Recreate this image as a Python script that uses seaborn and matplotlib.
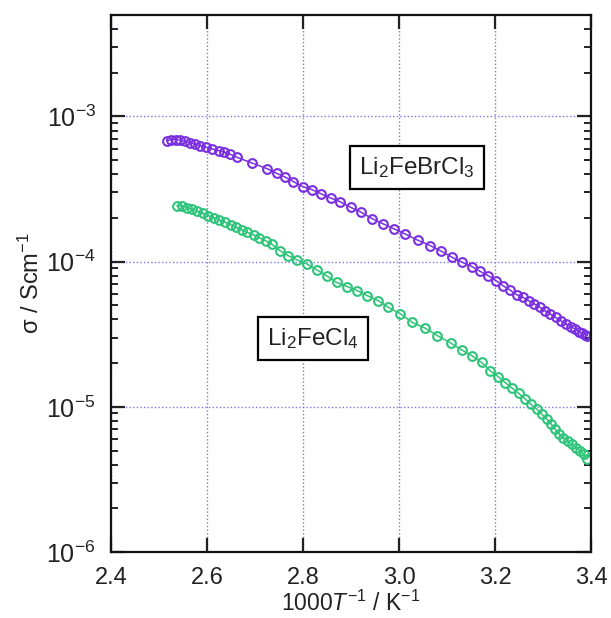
import numpy as np
import pandas as pd
import matplotlib
matplotlib.use("Agg")
import matplotlib.pyplot as plt
import matplotlib.ticker as mticker
import seaborn as sns

# Li2FeBrCl3 (purple)
x_brcl = [2.517, 2.526, 2.535, 2.544, 2.554, 2.565, 2.575, 2.585, 2.598, 2.611,
          2.624, 2.635, 2.648, 2.662, 2.693, 2.726, 2.745, 2.763, 2.780, 2.799,
          2.818, 2.838, 2.858, 2.877, 2.899, 2.921, 2.944, 2.967, 2.990, 3.013,
          3.040, 3.065, 3.088, 3.111, 3.132, 3.152, 3.169, 3.186, 3.202, 3.217,
          3.231, 3.245, 3.258, 3.270, 3.282, 3.294, 3.304, 3.315, 3.326, 3.337,
          3.348, 3.358, 3.367, 3.374, 3.381, 3.388, 3.392]
s_brcl = [6.82e-4, 6.93e-4, 6.93e-4, 6.87e-4, 6.73e-4, 6.59e-4, 6.44e-4, 6.31e-4, 6.14e-4, 5.98e-4,
          5.83e-4, 5.68e-4, 5.50e-4, 5.24e-4, 4.79e-4, 4.36e-4, 4.06e-4, 3.82e-4, 3.56e-4, 3.29e-4,
          3.14e-4, 2.93e-4, 2.74e-4, 2.59e-4, 2.37e-4, 2.19e-4, 1.98e-4, 1.82e-4, 1.68e-4, 1.55e-4,
          1.40e-4, 1.29e-4, 1.18e-4, 1.07e-4, 9.89e-5, 9.25e-5, 8.57e-5, 8.00e-5, 7.40e-5, 6.82e-5,
          6.38e-5, 5.92e-5, 5.68e-5, 5.38e-5, 5.11e-5, 4.84e-5, 4.59e-5, 4.36e-5, 4.13e-5, 3.92e-5,
          3.72e-5, 3.56e-5, 3.44e-5, 3.30e-5, 3.21e-5, 3.14e-5, 3.09e-5]

# Li2FeCl4 (green)
x_cl = [2.537, 2.547, 2.558, 2.569, 2.580, 2.591, 2.603, 2.615, 2.626, 2.638,
        2.649, 2.660, 2.672, 2.684, 2.697, 2.709, 2.723, 2.735, 2.752, 2.769,
        2.787, 2.808, 2.829, 2.849, 2.870, 2.892, 2.913, 2.934, 2.957, 2.978,
        3.002, 3.028, 3.054, 3.080, 3.108, 3.131, 3.152, 3.172, 3.190, 3.207,
        3.221, 3.235, 3.249, 3.263, 3.275, 3.287, 3.297, 3.308, 3.317, 3.325,
        3.333, 3.342, 3.351, 3.360, 3.369, 3.377, 3.385, 3.392]
s_cl = [2.43e-4, 2.41e-4, 2.36e-4, 2.29e-4, 2.22e-4, 2.15e-4, 2.07e-4, 2.00e-4, 1.93e-4, 1.87e-4,
        1.80e-4, 1.73e-4, 1.66e-4, 1.59e-4, 1.53e-4, 1.46e-4, 1.39e-4, 1.32e-4, 1.19e-4, 1.10e-4,
        1.03e-4, 9.64e-5, 8.77e-5, 8.00e-5, 7.19e-5, 6.73e-5, 6.31e-5, 5.83e-5, 5.38e-5, 4.84e-5,
        4.39e-5, 3.81e-5, 3.49e-5, 3.09e-5, 2.75e-5, 2.46e-5, 2.25e-5, 2.02e-5, 1.77e-5, 1.61e-5,
        1.47e-5, 1.35e-5, 1.24e-5, 1.13e-5, 1.04e-5, 9.64e-6, 8.91e-6, 8.22e-6, 7.60e-6, 7.02e-6,
        6.55e-6, 6.14e-6, 5.83e-6, 5.53e-6, 5.24e-6, 4.98e-6, 4.72e-6, 4.40e-6]

x_ticks = [2.4, 2.6, 2.8, 3.0, 3.2, 3.4]
y_ticks = [1e-6, 1e-5, 1e-4, 1e-3]
label_brcl = r"Li$_2$FeBrCl$_3$"
label_cl = r"Li$_2$FeCl$_4$"

sns.set_theme(style="white")
plt.rcParams["font.family"] = ["Liberation Sans", "DejaVu Sans"]
plt.rcParams["mathtext.fontset"] = "custom"
plt.rcParams["mathtext.rm"] = "Liberation Sans"
plt.rcParams["mathtext.it"] = "Liberation Sans:italic"
plt.rcParams["mathtext.bf"] = "Liberation Sans:bold"
plt.rcParams["mathtext.sf"] = "Liberation Sans"

fig = plt.figure(figsize=(6.11, 6.18), dpi=100)
ax = fig.add_axes([0.1817, 0.1068, 0.7856, 0.8689])

df1 = pd.DataFrame({"x": x_brcl, "s": s_brcl})
df2 = pd.DataFrame({"x": x_cl, "s": s_cl})
purple = "#7a2fe0"
green = "#2fc47a"
for df, c in [(df1, purple), (df2, green)]:
    sns.lineplot(data=df, x="x", y="s", ax=ax, color=c, estimator=None, sort=False,
                 marker="o", markersize=6.3, markerfacecolor="none",
                 markeredgecolor=c, markeredgewidth=1.5, linewidth=1.1)

ax.set_yscale("log")
ax.set_xlim(2.4, 3.4)
ax.set_ylim(1e-6, 5e-3)
ax.set_xticks(x_ticks)
ax.xaxis.set_major_formatter(mticker.FormatStrFormatter("%.1f"))
ax.yaxis.set_major_locator(mticker.FixedLocator(y_ticks))
ax.yaxis.set_minor_locator(mticker.LogLocator(base=10, subs=np.arange(2, 10), numticks=20))
ax.yaxis.set_minor_formatter(mticker.NullFormatter())
ax.yaxis.set_major_formatter(mticker.FuncFormatter(lambda v, p: r"$10^{%d}$" % int(round(np.log10(v)))))

ax.grid(True, which="major", color="#7878ee", linestyle=(0, (1.0, 1.6)), linewidth=1.0)
ax.tick_params(which="both", direction="in", top=True, right=True, bottom=True, left=True,
               colors="#222222")
ax.tick_params(which="major", length=10, width=1.6)
ax.tick_params(which="minor", length=5, width=1.4)
ax.tick_params(axis="x", which="major", pad=11, labelsize=17)
ax.tick_params(axis="y", which="major", pad=11, labelsize=18)
for sp in ax.spines.values():
    sp.set_linewidth(1.6)
    sp.set_color("#111111")

ax.set_xlabel(r"1000$T^{-1}$ / K$^{-1}$", fontsize=16.5, color="#222222", labelpad=1)
ax.set_ylabel(r"σ / Scm$^{-1}$", fontsize=17, color="#222222", labelpad=2)

box = dict(boxstyle="square,pad=0.38", facecolor="white", edgecolor="black", linewidth=1.6)
ax.text(3.0375, 10 ** -3.352, label_brcl, fontsize=17.5, ha="center", va="center",
        bbox=box, color="#222222")
ax.text(2.82, 10 ** -4.528, label_cl, fontsize=17.5, ha="center", va="center",
        bbox=box, color="#222222")

fig.savefig("out.png", dpi=100)
